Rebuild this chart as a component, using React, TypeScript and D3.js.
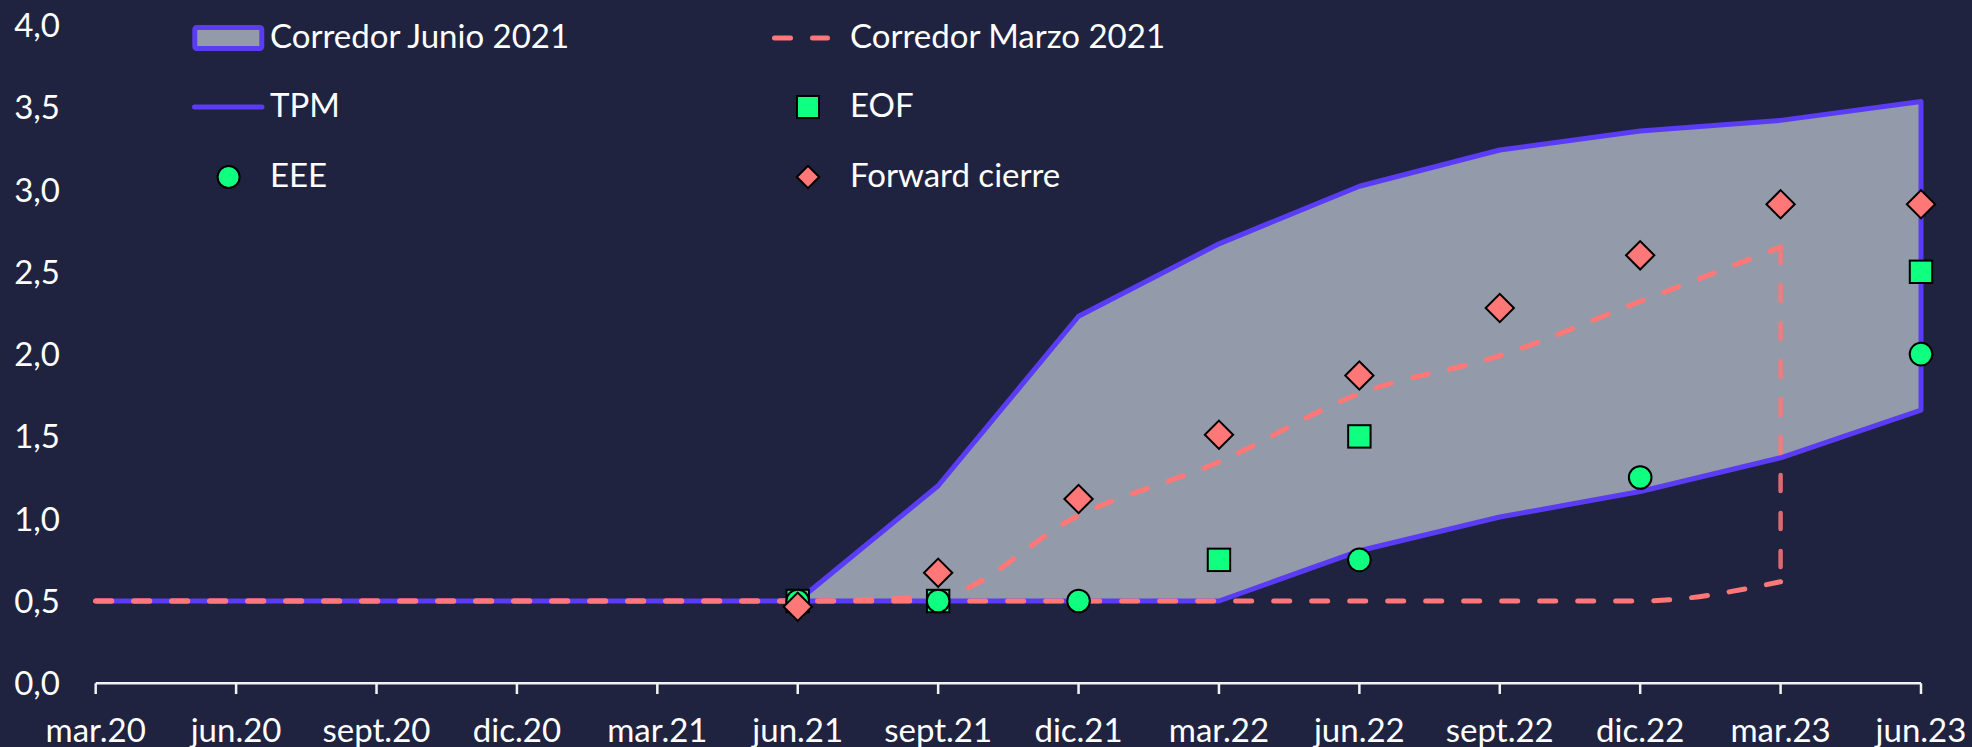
import React from "react";
import * as d3 from "d3";

// ---------- data ----------
const quarters = [
  "mar.20", "jun.20", "sept.20", "dic.20", "mar.21", "jun.21", "sept.21",
  "dic.21", "mar.22", "jun.22", "sept.22", "dic.22", "mar.23", "jun.23",
];
const yTicks = [0, 0.5, 1, 1.5, 2, 2.5, 3, 3.5, 4];

const tpm: (number | null)[] = [0.5, 0.5, 0.5, 0.5, 0.5, 0.5, null, null, null, null, null, null, null, null];
const corrJunUpper: (number | null)[] = [null, null, null, null, null, 0.5, 1.2, 2.23, 2.67, 3.02, 3.24, 3.355, 3.42, 3.535];
const corrJunLower: (number | null)[] = [null, null, null, null, null, 0.5, 0.5, 0.5, 0.5, 0.805, 1.01, 1.165, 1.37, 1.66];
const corrMarUpper: (number | null)[] = [0.5, 0.5, 0.5, 0.5, 0.5, 0.5, 0.53, 1.02, 1.345, 1.76, 1.99, 2.32, 2.65, null];
const corrMarLower: (number | null)[] = [0.5, 0.5, 0.5, 0.5, 0.5, 0.5, 0.5, 0.5, 0.5, 0.5, 0.5, 0.5, 0.617, null];
const eee: (number | null)[] = [null, null, null, null, null, 0.5, 0.5, 0.5, null, 0.75, null, 1.25, null, 2.0];
const eof: (number | null)[] = [null, null, null, null, null, 0.5, 0.5, null, 0.75, 1.5, null, null, null, 2.5];
const fwd: (number | null)[] = [null, null, null, null, null, 0.465, 0.672, 1.12, 1.51, 1.87, 2.28, 2.6, 2.91, 2.91];

const legendLabels = ["Corredor Junio 2021", "TPM", "EEE", "Corredor Marzo 2021", "EOF", "Forward cierre"];

// ---------- style ----------
const W = 1972;
const H = 747;
const BG = "#1f2340";
const FILL = "#939baa";
const PURPLE = "#5b3cf5";
const PINK = "#ff7777";
const GREEN = "#0fff80";
const FONT = "Lato, 'Open Sans', sans-serif";
const FS = 33;

export default function App() {
  const x = d3.scalePoint<string>().domain(quarters).range([95.7, 1921]);
  const y = d3.scaleLinear().domain([0, 4]).range([683.3, 24.9]);

  const px = (i: number) => x(quarters[i]) as number;

  // corridor junio polygon
  const upperPts: [number, number][] = [];
  const lowerPts: [number, number][] = [];
  quarters.forEach((_, i) => {
    if (corrJunUpper[i] != null) upperPts.push([px(i), y(corrJunUpper[i] as number)]);
    if (corrJunLower[i] != null) lowerPts.push([px(i), y(corrJunLower[i] as number)]);
  });
  const polyPath = (d3.line()([...upperPts, ...lowerPts.slice().reverse()]) || "") + "Z";

  const idx = quarters.map((_, i) => i);
  const lineOf = (arr: (number | null)[], curve: d3.CurveFactory) =>
    d3
      .line<number>()
      .defined((i) => arr[i] != null)
      .x((i) => px(i))
      .y((i) => y(arr[i] as number))
      .curve(curve)(idx) || "";

  const tpmPath = lineOf(tpm, d3.curveLinear);
  const marUpPath = lineOf(corrMarUpper, d3.curveMonotoneX);
  const marLowPath = lineOf(corrMarLower, d3.curveMonotoneX);

  // vertical connector at the last point of the March corridor
  const lastMar = corrMarUpper.reduce((acc: number, v, i) => (v != null ? i : acc), 0);
  const vx = px(lastMar);

  const diamond = d3.symbol().type(d3.symbolSquare).size(400)() || "";
  const diamondLeg = d3.symbol().type(d3.symbolSquare).size(250)() || "";

  const markerStroke = "#000";

  return (
    <svg
      width={W}
      height={H}
      style={{ position: "absolute", left: 0, top: 0, background: BG, display: "block" }}
      fontFamily={FONT}
    >
      <rect x={0} y={0} width={W} height={H} fill={BG} />

      {/* y tick labels */}
      {yTicks.map((t) => (
        <text key={t} x={60} y={y(t) + 12} textAnchor="end" fill="#fff" fontSize={FS}>
          {d3.format(".1f")(t).replace(".", ",")}
        </text>
      ))}

      {/* band */}
      <path d={polyPath} fill={FILL} stroke={PURPLE} strokeWidth={5} strokeLinejoin="round" />
      {/* TPM */}
      <path d={tpmPath} fill="none" stroke={PURPLE} strokeWidth={5} />

      {/* March corridor */}
      <path d={marUpPath} fill="none" stroke={PINK} strokeWidth={5} strokeDasharray="16 22" strokeLinecap="round" />
      <path d={marLowPath} fill="none" stroke={PINK} strokeWidth={5} strokeDasharray="16 22" strokeLinecap="round" />
      <line
        x1={vx}
        x2={vx}
        y1={y(corrMarUpper[lastMar] as number)}
        y2={y(corrMarLower[lastMar] as number)}
        stroke={PINK}
        strokeOpacity={0.85}
        strokeWidth={4.5}
        strokeDasharray="16 22"
        strokeLinecap="round"
      />

      {/* x axis */}
      <line x1={px(0)} x2={px(quarters.length - 1)} y1={683.3} y2={683.3} stroke="#f2f2f2" strokeWidth={2.5} />
      {quarters.map((q, i) => (
        <g key={q}>
          <line x1={px(i)} x2={px(i)} y1={683.3} y2={694} stroke="#f2f2f2" strokeWidth={2.5} />
          <text x={px(i)} y={741.5} textAnchor="middle" fill="#fff" fontSize={FS}>
            {q}
          </text>
        </g>
      ))}

      {/* markers: EOF squares */}
      {eof.map((v, i) =>
        v == null ? null : (
          <rect key={"eof" + i} x={px(i) - 11.2} y={y(v) - 11.2} width={22.4} height={22.4} fill={GREEN} stroke={markerStroke} strokeWidth={2} />
        )
      )}
      {/* EEE circles */}
      {eee.map((v, i) =>
        v == null ? null : (
          <circle key={"eee" + i} cx={px(i)} cy={y(v)} r={11.3} fill={GREEN} stroke={markerStroke} strokeWidth={2} />
        )
      )}
      {/* Forward diamonds */}
      {fwd.map((v, i) =>
        v == null ? null : (
          <path key={"fwd" + i} d={diamond} transform={`translate(${px(i)},${y(v)}) rotate(45)`} fill={PINK} stroke={markerStroke} strokeWidth={2} />
        )
      )}

      {/* legend */}
      <g fill="#fff" fontSize={FS}>
        <rect x={194.8} y={27.5} width={67} height={21} rx={2} fill={FILL} stroke={PURPLE} strokeWidth={5} />
        <text x={270} y={48}>{legendLabels[0]}</text>

        <line x1={194.5} x2={262} y1={107} y2={107} stroke={PURPLE} strokeWidth={5} strokeLinecap="round" />
        <text x={270} y={117}>{legendLabels[1]}</text>

        <circle cx={228.6} cy={177} r={11} fill={GREEN} stroke={markerStroke} strokeWidth={2} />
        <text x={270} y={187}>{legendLabels[2]}</text>

        <line x1={774.5} x2={827.5} y1={38} y2={38} stroke={PINK} strokeWidth={5} strokeDasharray="16 22" strokeLinecap="round" />
        <text x={850} y={48}>{legendLabels[3]}</text>

        <rect x={797} y={96} width={22} height={22} fill={GREEN} stroke={markerStroke} strokeWidth={2} />
        <text x={850} y={117}>{legendLabels[4]}</text>

        <path d={diamondLeg} transform="translate(808,177) rotate(45)" fill={PINK} stroke={markerStroke} strokeWidth={2} />
        <text x={850} y={187}>{legendLabels[5]}</text>
      </g>
    </svg>
  );
}
